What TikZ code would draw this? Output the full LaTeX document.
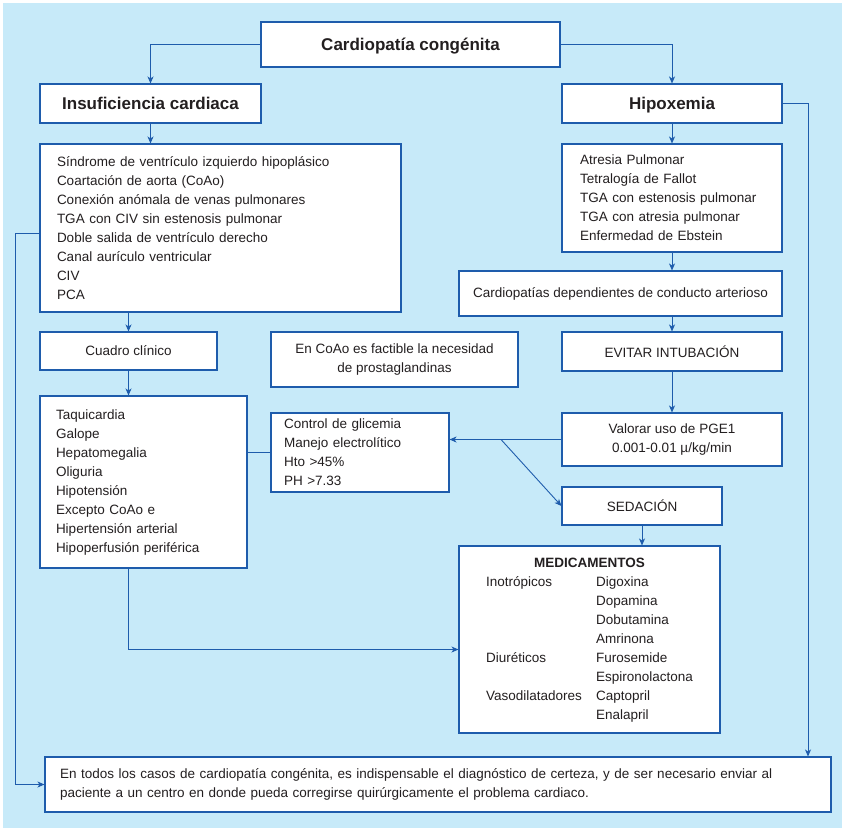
\documentclass[tikz,border=0pt]{standalone}
\usepackage{fontspec}
\setmainfont{Liberation Sans}
\usetikzlibrary{arrows.meta}

\definecolor{bgblue}{RGB}{199,234,249}
\definecolor{bblue}{RGB}{30,92,172}
\definecolor{txt}{RGB}{35,31,32}

\tikzset{
  box/.style={draw=bblue, line width=1.1pt, fill=white, text=txt,
    inner sep=0pt, font=\fontsize{13.5}{19}\selectfont},
  listbox/.style={box, align=left},
  headbox/.style={box, font=\fontsize{17}{19}\selectfont\bfseries,
    text height=12pt, text depth=0pt},
  link/.style={draw=bblue, line width=0.9pt},
  arr/.style={link, -{Stealth[length=7pt,width=6pt,inset=2pt]}}
}

\begin{document}
\begin{tikzpicture}[x=1pt,y={(0pt,-1pt)}]
  \useasboundingbox (0,0) rectangle (842,828);
  \fill[bgblue] (3,3) rectangle (842,828);

  % top level
  \node[headbox, minimum width=299pt, minimum height=45pt] (title) at (410.5,44.5) {Cardiopatía congénita};
  \node[headbox, minimum width=221pt, minimum height=39pt] (insuf) at (150.5,103.5) {Insuficiencia cardiaca};
  \node[headbox, minimum width=220pt, minimum height=39pt] (hipox) at (672,103.5) {Hipoxemia};

  % left branch
  \node[listbox, text width=327pt, inner xsep=17pt, minimum height=168pt] (sind) at (220.5,228) {%
    Síndrome de ventrículo izquierdo hipoplásico\\
    Coartación de aorta (CoAo)\\
    Conexión anómala de venas pulmonares\\
    TGA con CIV sin estenosis pulmonar\\
    Doble salida de ventrículo derecho\\
    Canal aurículo ventricular\\
    CIV\\
    PCA};
  \node[box, minimum width=177pt, minimum height=38pt] (cuadro) at (128.5,351) {Cuadro clínico};
  \node[box, align=center, minimum width=247pt, minimum height=55pt] (coao) at (394.5,359.5)
    {En CoAo es factible la necesidad\\de prostaglandinas};
  \node[listbox, text width=175pt, inner xsep=16pt, minimum height=172pt] (taqui) at (143.5,482) {%
    Taquicardia\\
    Galope\\
    Hepatomegalia\\
    Oliguria\\
    Hipotensión\\
    Excepto CoAo e\\
    Hipertensión arterial\\
    Hipoperfusión periférica};
  \node[listbox, text width=152pt, inner xsep=13pt, minimum height=79pt] (control) at (360,452.5) {%
    Control de glicemia\\
    Manejo electrolítico\\
    Hto >45\%\\
    PH >7.33};

  % right branch
  \node[listbox, text width=184pt, inner xsep=18pt, minimum height=108pt] (atresia) at (672,198) {%
    Atresia Pulmonar\\
    Tetralogía de Fallot\\
    TGA con estenosis pulmonar\\
    TGA con atresia pulmonar\\
    Enfermedad de Ebstein};
  \node[box, minimum width=323pt, minimum height=45pt] (cardep) at (620.5,293.5)
    {Cardiopatías dependientes de conducto arterioso};
  \node[box, minimum width=220pt, minimum height=39pt] (evitar) at (672,351.5) {EVITAR INTUBACIÓN};
  \node[box, align=center, minimum width=220pt, minimum height=53pt] (valorar) at (672,439.5)
    {Valorar uso de PGE1\\0.001-0.01 µ/kg/min};
  \node[box, minimum width=160pt, minimum height=38pt] (sed) at (642,506) {SEDACIÓN};
  \node[box, minimum width=261pt, minimum height=187pt] (medic) at (589.5,639.5) {%
    \begin{tabular}{@{}p{110pt}@{}l@{}}
      \multicolumn{2}{c}{\bfseries MEDICAMENTOS}\\
      Inotrópicos & Digoxina\\
                  & Dopamina\\
                  & Dobutamina\\
                  & Amrinona\\
      Diuréticos  & Furosemide\\
                  & Espironolactona\\
      Vasodilatadores & Captopril\\
                  & Enalapril
    \end{tabular}};

  % closing note
  \node[listbox, text width=756pt, inner xsep=15pt, minimum height=55pt] (final) at (438,784.5) {%
    En todos los casos de cardiopatía congénita, es indispensable el diagnóstico de certeza, y de ser necesario enviar al\\
    paciente a un centro en donde pueda corregirse quirúrgicamente el problema cardiaco.};

  % side rails and branch point
  \coordinate (lrail) at (15,0);
  \coordinate (rrail) at (808,0);
  \coordinate (split) at (501,439.5);

  % connectors
  \draw[arr] (title.west) -| (insuf.north);
  \draw[arr] (title.east) -| (hipox.north);
  \draw[arr] (hipox.east) -| (rrail |- final.north);
  \draw[arr] (insuf.south) -- (insuf.south |- sind.north);
  \draw[arr] ([yshift=-5pt]sind.west) -- ([yshift=-5pt]sind.west -| lrail)
    -- (lrail |- final.west) -- (final.west);
  \draw[arr] (cuadro.north |- sind.south) -- (cuadro.north);
  \draw[arr] (cuadro.south) -- (cuadro.south |- taqui.north);
  \draw[arr] (cuadro.south |- taqui.south) |- ([yshift=-10pt]medic.west);
  \draw[link] (control.west) -- (control.west -| taqui.east);

  \draw[arr] (hipox.south) -- (atresia.north);
  \draw[arr] (atresia.south) -- (atresia.south |- cardep.north);
  \draw[arr] (evitar.north |- cardep.south) -- (evitar.north);
  \draw[arr] (evitar.south) -- (valorar.north);
  \draw[arr] (valorar.west) -- (control.east |- valorar.west);
  \draw[arr] (split) -- (sed.west);
  \draw[arr] (sed.south) -- (sed.south |- medic.north);
\end{tikzpicture}
\end{document}
